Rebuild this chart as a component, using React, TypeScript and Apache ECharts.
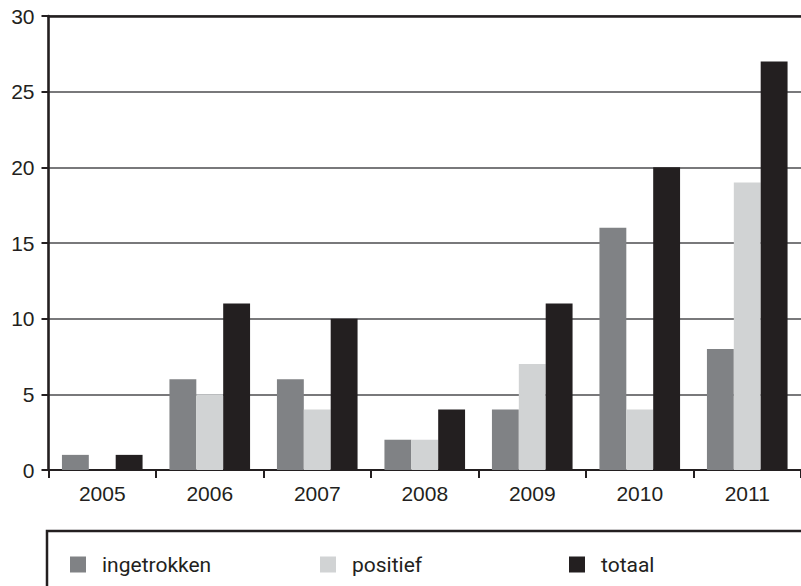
import React, { useEffect, useRef } from "react";
import * as echarts from "echarts";

const categories = ["2005", "2006", "2007", "2008", "2009", "2010", "2011"];
const ingetrokken = [1, 6, 6, 2, 4, 16, 8];
const positief = [0, 5, 4, 2, 7, 4, 19];
const totaal = [1, 11, 10, 4, 11, 20, 27];
const seriesNames = ["ingetrokken", "positief", "totaal"];
const colors = ["#808285", "#d1d3d4", "#231f20"];

const FONT = "'Liberation Sans', Arial, Helvetica, sans-serif";
const LEGEND_FONT = "Roboto, 'Liberation Sans', Arial, sans-serif";
const DARK = "#231f20";

export default function App() {
  const ref = useRef<HTMLDivElement>(null);
  useEffect(() => {
    if (!ref.current) return;
    const chart = echarts.init(ref.current, null, { renderer: "svg" });
    const legendX = [70, 320, 569];
    chart.setOption({
      animation: false,
      backgroundColor: "#ffffff",
      textStyle: { fontFamily: FONT },
      grid: { left: 48.5, top: 16, width: 755, height: 454 },
      legend: seriesNames.map((n, i) => ({
        data: [n],
        left: legendX[i],
        top: 554,
        icon: "rect",
        itemWidth: 16,
        itemHeight: 16,
        padding: 0,
        textStyle: { fontFamily: LEGEND_FONT, fontSize: 21, color: DARK, padding: [0, 0, 0, 11] },
      })),
      xAxis: [
        {
          type: "category",
          data: categories,
          axisLine: { show: true, lineStyle: { color: DARK, width: 2 } },
          axisTick: { show: true, length: 8, lineStyle: { color: DARK, width: 2 } },
          axisLabel: { fontFamily: FONT, fontSize: 21, color: DARK, margin: 13 },
        },
        {
          type: "category",
          data: categories,
          position: "top",
          axisLine: { show: true, lineStyle: { color: DARK, width: 2.5 } },
          axisTick: { show: false },
          axisLabel: { show: false },
        },
      ],
      yAxis: {
        type: "value",
        min: 0,
        max: 30,
        interval: 5,
        axisLine: { show: true, lineStyle: { color: DARK, width: 2.6 } },
        axisTick: { show: true, length: 7, lineStyle: { color: DARK, width: 2 } },
        axisLabel: { fontFamily: FONT, fontSize: 21, color: DARK, margin: 14 },
        splitLine: { show: true, lineStyle: { color: "#4d4d4f", width: 1.5 } },
      },
      graphic: [
        {
          type: "rect",
          shape: { x: 47, y: 531, width: 800, height: 120 },
          style: { fill: "none", stroke: DARK, lineWidth: 2.5 },
          z: 10,
        },
      ],
      series: [ingetrokken, positief, totaal].map((d, i) => ({
        name: seriesNames[i],
        type: "bar",
        data: d,
        barGap: "0%",
        barCategoryGap: "25%",
        itemStyle: { color: colors[i] },
      })),
    });
    return () => chart.dispose();
  }, []);
  return (
    <div
      ref={ref}
      style={{ position: "fixed", left: 0, top: 0, width: 801, height: 586 }}
    />
  );
}
